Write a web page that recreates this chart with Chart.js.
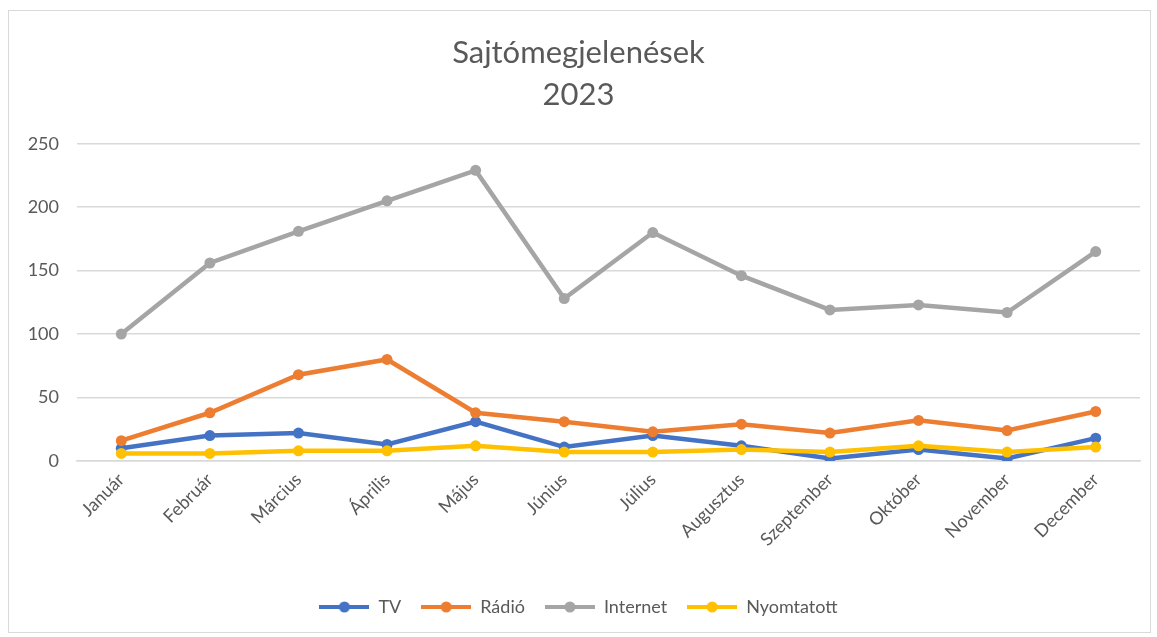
<!DOCTYPE html>
<html>
<head>
<meta charset="utf-8">
<script src="https://cdn.jsdelivr.net/npm/chart.js@4"></script>
<style>
  html, body { margin: 0; background: #fff; }
  #wrap {
    position: absolute; left: 8px; top: 10px;
    width: 1143px; height: 623px;
    border: 1px solid #d9d9d9; box-sizing: border-box;
  }
</style>
</head>
<body>
<div id="wrap"><canvas id="chart-sajto"></canvas></div>
<script>
'use strict';

var honapok = ['Január', 'Február', 'Március', 'Április', 'Május', 'Június',
               'Július', 'Augusztus', 'Szeptember', 'Október', 'November', 'December'];

var tv         = [10, 20, 22, 13, 31, 11, 20, 12, 2, 9, 2, 18];
var radio      = [16, 38, 68, 80, 38, 31, 23, 29, 22, 32, 24, 39];
var internet   = [100, 156, 181, 205, 229, 128, 180, 146, 119, 123, 117, 165];
var nyomtatott = [6, 6, 8, 8, 12, 7, 7, 9, 7, 12, 7, 11];

var cimSorok = ['Sajtómegjelenések', '2023'];

var szoveg = '#595959';
var racs   = '#d9d9d9';
var betu   = 'Lato, "Open Sans", sans-serif';

// legend marker: short line with a dot in the middle, like Excel
function jelolo(szin) {
  var c = document.createElement('canvas');
  c.width = 50; c.height = 12;
  var ctx = c.getContext('2d');
  ctx.strokeStyle = szin;
  ctx.lineWidth = 4;
  ctx.beginPath();
  ctx.moveTo(0, 6); ctx.lineTo(50, 6);
  ctx.stroke();
  ctx.fillStyle = szin;
  ctx.beginPath();
  ctx.arc(25, 6, 5.5, 0, Math.PI * 2);
  ctx.fill();
  return c;
}

function sorozat(nev, adat, szin, sorrend) {
  return {
    label: nev,
    data: adat,
    borderColor: szin,
    backgroundColor: szin,
    borderWidth: 4.5,
    pointRadius: 5.5,
    pointBorderWidth: 0,
    pointBackgroundColor: szin,
    pointStyle: 'circle',
    legendMarker: jelolo(szin),
    tension: 0,
    fill: false,
    order: sorrend
  };
}

var SajtoChart = (function () {
  var canvas = document.getElementById('chart-sajto');
  if (!canvas) return;

  var ds = [
    sorozat('TV', tv, '#4472C4', 4),
    sorozat('Rádió', radio, '#ED7D31', 3),
    sorozat('Internet', internet, '#A5A5A5', 2),
    sorozat('Nyomtatott', nyomtatott, '#FFC000', 1)
  ];

  return new Chart(canvas, {
    type: 'line',
    data: { labels: honapok, datasets: ds },
    options: {
      responsive: true,
      maintainAspectRatio: false,
      animation: false,
      layout: { padding: { left: 8, right: 10, top: 0, bottom: 6 } },
      plugins: {
        tooltip: { enabled: false },
        title: {
          display: true,
          text: cimSorok,
          color: szoveg,
          font: { family: betu, size: 31, weight: 'normal', lineHeight: 1.35 },
          padding: { top: 21, bottom: 28 }
        },
        legend: {
          position: 'bottom',
          labels: {
            usePointStyle: true,
            pointStyleWidth: 50,
            padding: 20,
            color: szoveg,
            font: { family: betu, size: 18 },
            generateLabels: function (chart) {
              return chart.data.datasets.map(function (d, i) {
                return {
                  text: d.label,
                  fillStyle: d.borderColor,
                  strokeStyle: d.borderColor,
                  lineWidth: 0,
                  pointStyle: d.legendMarker,
                  fontColor: szoveg,
                  hidden: false,
                  datasetIndex: i
                };
              });
            }
          }
        }
      },
      scales: {
        x: {
          offset: true,
          grid: { display: false, drawTicks: false },
          border: { display: true, color: racs, width: 1.5 },
          ticks: {
            color: szoveg,
            font: { family: betu, size: 18 },
            maxRotation: 45,
            minRotation: 45,
            padding: 8,
            autoSkip: false
          },
          afterFit: function (s) { s.height = 117; }
        },
        y: {
          min: 0,
          max: 250,
          grid: { color: racs, lineWidth: 1.5, drawTicks: false },
          border: { display: false },
          ticks: {
            stepSize: 50,
            color: szoveg,
            font: { family: betu, size: 18 },
            padding: 18
          },
          afterFit: function (s) { s.width = 60; }
        }
      }
    }
  });
})();
</script>
</body>
</html>
